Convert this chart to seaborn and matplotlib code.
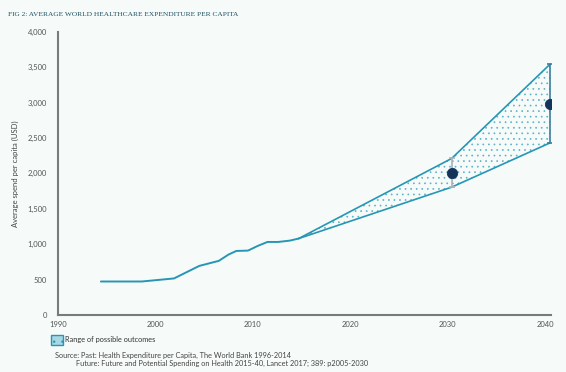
import matplotlib
matplotlib.use('Agg')
import matplotlib.pyplot as plt
import seaborn as sns
import pandas as pd
from matplotlib.patches import Patch

# historical spend (World Bank)
hist_years = [1994.4, 1998.6, 2001.9, 2004.5, 2006.5, 2007.5, 2008.3,
              2009.5, 2010.5, 2011.5, 2012.6, 2013.8, 2014.7]
hist_values = [474, 474, 517, 694, 765, 854, 905, 910, 976, 1032, 1032, 1051, 1080]

# projected range (Lancet 2017)
proj_years = [2014.7, 2030.4, 2040.5]
proj_upper = [1080, 2210, 3540]
proj_lower = [1080, 1805, 2430]

# central estimates
mid_years = [2030.4, 2040.5]
mid_values = [2010, 2985]

x_ticks = [1990, 2000, 2010, 2020, 2030, 2040]
y_ticks = [0, 500, 1000, 1500, 2000, 2500, 3000, 3500, 4000]

BG = '#f6fbfa'
TEAL = '#2796b4'
NAVY = '#15345a'
GREY = '#7a7a7a'

sns.set_style('white')
plt.rcParams['font.family'] = ['Lato', 'DejaVu Sans']
plt.rcParams['hatch.linewidth'] = 0.5

fig = plt.figure(figsize=(5.66, 3.72), dpi=100, facecolor=BG)
ax = fig.add_axes([0.1025, 0.153, 0.871, 0.762])
ax.set_facecolor(BG)

hist = pd.DataFrame({'year': hist_years, 'spend': hist_values})
proj = pd.DataFrame({'year': proj_years, 'upper': proj_upper, 'lower': proj_lower})

ax.fill_between(proj['year'], proj['lower'], proj['upper'], facecolor=BG,
                edgecolor='#5fb3c8', hatch='...', linewidth=0, zorder=1)
sns.lineplot(data=hist, x='year', y='spend', ax=ax, color=TEAL, lw=1.4, zorder=3)
sns.lineplot(data=proj, x='year', y='upper', ax=ax, color=TEAL, lw=1.2, zorder=3)
sns.lineplot(data=proj, x='year', y='lower', ax=ax, color=TEAL, lw=1.2, zorder=3)

# range bars with caps
bar_colors = ['#a9b3b8', '#3b7e9c']
for i, (yr, c) in enumerate(zip(mid_years, bar_colors)):
    ax.errorbar([yr], [mid_values[i]],
                yerr=[[mid_values[i] - proj_lower[i + 1]], [proj_upper[i + 1] - mid_values[i]]],
                fmt='none', ecolor=c, elinewidth=1.2, capsize=2.5, capthick=1.2, zorder=4)
sns.scatterplot(x=mid_years, y=mid_values, ax=ax, color=NAVY, s=55,
                edgecolor=NAVY, zorder=5)

ax.set_xlim(1990, 2040.6)
ax.set_ylim(0, 4000)
ax.set_xticks(x_ticks)
ax.set_yticks(y_ticks)
ax.set_yticklabels([f'{v:,}' for v in y_ticks])
ax.tick_params(axis='x', length=2, width=1, color=GREY, labelsize=5.5,
               labelcolor='#555555', pad=2)
ax.tick_params(axis='y', length=0, labelsize=5.5, labelcolor='#555555', pad=8)
ax.set_xlabel('')
ax.set_ylabel('Average spend per capita (USD)', fontsize=5.5, color='#444444', labelpad=6)
for side in ['top', 'right']:
    ax.spines[side].set_visible(False)
for side in ['left', 'bottom']:
    ax.spines[side].set_color(GREY)
    ax.spines[side].set_linewidth(1.5)

fig.text(0.014, 0.962, 'FIG 2: AVERAGE WORLD HEALTHCARE EXPENDITURE PER CAPITA',
         family=['Liberation Serif', 'DejaVu Serif'], fontsize=5.3, color='#1d4f63',
         va='center')

handle = Patch(facecolor='#a9d7e3', edgecolor=TEAL, hatch='..', linewidth=1)
fig.legend(handles=[handle], labels=['Range of possible outcomes'],
           loc='center left', bbox_to_anchor=(0.078, 0.086), frameon=False,
           fontsize=5.3, handlelength=1.6, handleheight=1.6, handletextpad=0.4,
           labelcolor='#333333')

fig.text(0.097, 0.045, 'Source: Past: Health Expenditure per Capita, The World Bank 1996-2014',
         fontsize=5.3, color='#444444', va='center')
fig.text(0.134, 0.022, 'Future: Future and Potential Spending on Health 2015-40, Lancet 2017; 389: p2005-2030',
         fontsize=5.3, color='#444444', va='center')

fig.savefig('out.png', dpi=100, facecolor=BG)
